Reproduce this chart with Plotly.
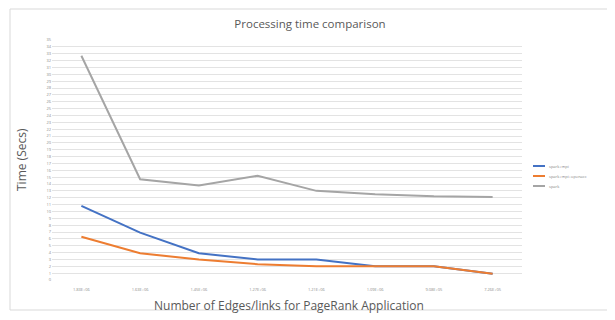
import plotly.graph_objects as go

categories = ["1.83E+06", "1.63E+06", "1.45E+06", "1.27E+06", "1.21E+06", "1.09E+06", "9.08E+05", "7.26E+05"]
spark_mpi = [10.8, 6.9, 3.9, 3.0, 3.0, 2.0, 2.0, 0.9]
spark_mpi_openacc = [6.3, 3.9, 3.0, 2.3, 2.0, 2.0, 2.0, 0.9]
spark = [32.7, 14.7, 13.8, 15.2, 13.0, 12.5, 12.2, 12.1]
y_ticks = list(range(0, 36))

series = [("spark+mpi", spark_mpi, "#4472C4"),
          ("spark+mpi+openacc", spark_mpi_openacc, "#ED7D31"),
          ("spark", spark, "#A5A5A5")]

fig = go.Figure()
for name, vals, col in series:
    fig.add_trace(go.Scatter(x=categories, y=vals, name=name, mode="lines",
                             line=dict(color=col, width=2), showlegend=False))

# page has an 8px body margin; work in page pixels and convert
O = 8
W, H = 615 - O, 320 - O
L, T = 52 - O, 40 - O
R = W - (522 - O)
B = H - (280 - O)
pw, ph = W - L - R, H - T - B

def px(x):
    return (x - O - L) / pw

def py(y):
    return (H - B - (y - O)) / ph

shapes = [dict(type="rect", xref="paper", yref="paper",
               x0=px(10), x1=px(612), y0=py(310), y1=py(9),
               line=dict(color="#d9d9d9", width=1), fillcolor="rgba(0,0,0,0)", layer="below")]
annotations = [
    dict(text="Time (Secs)", xref="paper", yref="paper", x=px(21), y=0.5, textangle=-90,
         showarrow=False, font=dict(size=12, color="#595959"), xanchor="center", yanchor="middle"),
    dict(text="Number of Edges/links for PageRank Application", xref="paper", yref="paper",
         x=px(289), y=py(305), showarrow=False, font=dict(size=12, color="#595959"),
         xanchor="center", yanchor="middle"),
]
leg_y = [166, 176, 186]
for (name, vals, col), yy in zip(series, leg_y):
    shapes.append(dict(type="line", xref="paper", yref="paper", x0=px(533), x1=px(545),
                       y0=py(yy), y1=py(yy), line=dict(color=col, width=2)))
    annotations.append(dict(text=name, xref="paper", yref="paper", x=px(547), y=py(yy),
                            showarrow=False, xanchor="left", yanchor="middle",
                            font=dict(size=4, color="#7f7f7f")))

fig.update_layout(
    width=W, height=H,
    margin=dict(l=L, r=R, t=T, b=B, autoexpand=False),
    paper_bgcolor="white", plot_bgcolor="white",
    font=dict(family="Open Sans, Liberation Sans, sans-serif", color="#595959"),
    title=dict(text="Processing time comparison", x=px(310), xanchor="center", xref="paper",
               y=1 - (24 - O) / H, yanchor="middle",
               font=dict(size=11.5, color="#595959")),
    showlegend=False,
    xaxis=dict(type="category", categoryorder="array", categoryarray=categories,
               range=[-0.5, 7.5], automargin=False, ticklabelstandoff=6,
               showgrid=False, showline=False, zeroline=False,
               tickfont=dict(size=4, color="#8c8c8c"), ticks=""),
    yaxis=dict(range=[0, 35], tickvals=y_ticks, showgrid=True, gridcolor="#e3e3e3", gridwidth=1,
               zeroline=False, showline=False, ticks="", automargin=False,
               tickfont=dict(size=4, color="#8c8c8c")),
    shapes=shapes,
    annotations=annotations,
)

fig.write_html("out.html")
